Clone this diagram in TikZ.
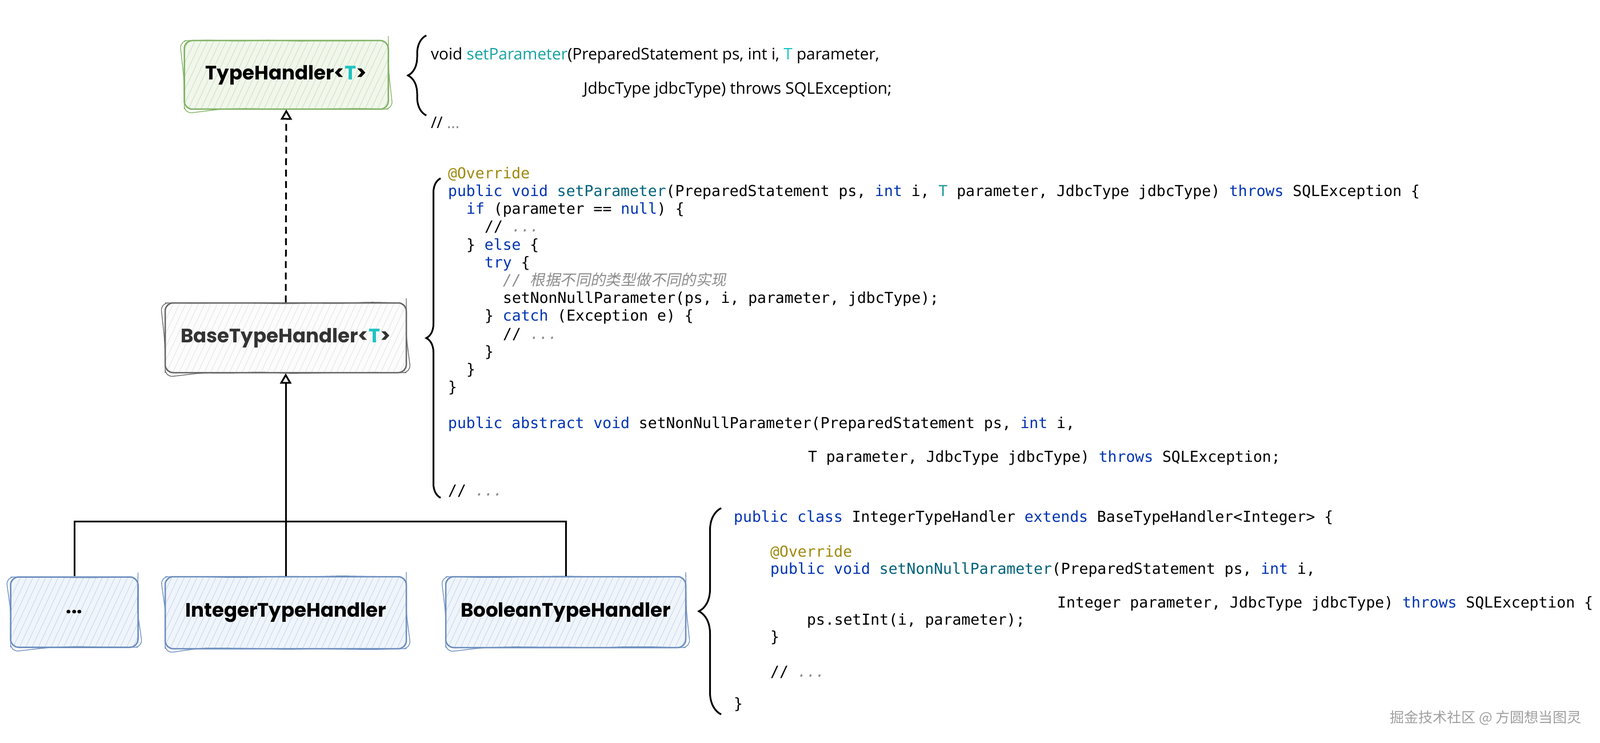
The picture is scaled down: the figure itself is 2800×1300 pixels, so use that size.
\documentclass[tikz,border=0pt]{standalone}
\usepackage{fontspec}
\setmainfont{Poppins}
\newfontfamily\codefont{DejaVu Sans Mono}
\newfontfamily\sigfont{Open Sans}
\newfontfamily\cjkslant[FakeSlant=0.2]{Noto Sans CJK SC}
\newfontfamily\cjkplain{Noto Sans CJK SC}
\usetikzlibrary{arrows.meta, decorations.pathreplacing, decorations.pathmorphing, patterns.meta}

\definecolor{kwblue}{HTML}{0033B3}
\definecolor{fnteal}{HTML}{00627A}
\definecolor{tpteal}{HTML}{20999D}
\definecolor{anolive}{HTML}{9E880D}
\definecolor{cmgray}{HTML}{8C8C8C}
\definecolor{sigteal}{HTML}{17A2A2}
\definecolor{tcyan}{HTML}{1CC4C4}
\definecolor{thline}{HTML}{82B366}
\definecolor{thfill}{HTML}{F1F7EC}
\definecolor{thhatch}{HTML}{CFE3C0}
\definecolor{bline}{HTML}{666666}
\definecolor{bfill}{HTML}{FCFCFC}
\definecolor{bhatch}{HTML}{E6E6E6}
\definecolor{subline}{HTML}{6C8EBF}
\definecolor{subfill}{HTML}{F0F5FB}
\definecolor{subhatch}{HTML}{C9D9EE}

\newcommand\kw[1]{\textcolor{kwblue}{#1}}
\newcommand\fnname[1]{\textcolor{fnteal}{#1}}
\newcommand\tparam[1]{\textcolor{tpteal}{#1}}
\newcommand\annot[1]{\textcolor{anolive}{#1}}
\newcommand\cmt[1]{\textcolor{cmgray}{\itshape #1}}
\newcommand\ind[1]{\hspace*{#1pt}}

\begin{document}
\begin{tikzpicture}[x=1pt, y=-1pt,
    box/.style={draw, line width=2.5pt, rounded corners=14pt, inner sep=0pt,
        font=\fontsize{34}{40}\selectfont\bfseries,
        pattern={Lines[angle=65,distance=10pt,line width=1pt]},
        postaction={draw, line width=1.3pt, decorate,
            decoration={random steps, segment length=50pt, amplitude=1.5pt}}},
    greenbox/.style={box, draw=thline, preaction={fill=thfill}, pattern color=thhatch},
    graybox/.style={box, draw=bline, preaction={fill=bfill}, pattern color=bhatch, text=black!80},
    bluebox/.style={box, draw=subline, preaction={fill=subfill}, pattern color=subhatch},
    code/.style={anchor=base west, align=left, inner sep=0pt,
        font=\codefont\fontsize{26.4}{31.2}\selectfont},
    codebrace/.style={decorate, decoration={brace, amplitude=#1}, line width=3pt},
    tree/.style={line width=3pt},
]
\useasboundingbox (0,0) rectangle (2800,1300);

% interface and base class
\node[greenbox, minimum width=357pt, minimum height=120pt] (th) at (501,131)
    {TypeHandler<\textcolor{tcyan}{T}>};
\node[graybox, minimum width=422pt, minimum height=122pt] (bth) at (500,591)
    {BaseTypeHandler<\textcolor{tcyan}{T}>};

% concrete handlers
\node[bluebox, minimum width=223pt, minimum height=123pt] (dots) at (130,1071) {...};
\node[bluebox, minimum width=422pt, minimum height=126pt] (ith) at (500,1072) {IntegerTypeHandler};
\node[bluebox, minimum width=420pt, minimum height=124pt] (bool) at (990,1071) {BooleanTypeHandler};

% inheritance
\draw[line width=3pt, dash pattern=on 12pt off 8pt, -{Triangle[open, length=18pt, width=20pt]}]
    (bth.north) -- (th.south);
\coordinate (fork) at (500,912);
\draw[tree] (dots.north) |- (fork) -| (bool.north);
\draw[tree, -{Triangle[open, length=18pt, width=20pt]}] (ith.north) -- (bth.south);

% interface method (base = last line)
\node[anchor=base west, align=left, inner sep=0pt,
    font=\sigfont\fontsize{28}{30}\selectfont] (thcode) at (754,225)
    {void \textcolor{sigteal}{setParameter}(PreparedStatement ps, int i, \textcolor{tcyan}{T} parameter,\\[30pt]
     \ind{267}JdbcType jdbcType) throws SQLException;\\[30pt]
     // \textcolor{cmgray}{...}};
\draw[codebrace=32pt] (746,202) -- (746,62);

% base class template method
\node[code] (bthcode) at (784,867)
    {\annot{@Override}\\
     \kw{public} \kw{void} \fnname{setParameter}(PreparedStatement ps, \kw{int} i, \tparam{T} parameter, JdbcType jdbcType) \kw{throws} SQLException \{\\
     \ind{32}\kw{if} (parameter == \kw{null}) \{\\
     \ind{64}// \cmt{...}\\
     \ind{32}\} \kw{else} \{\\
     \ind{64}\kw{try} \{\\
     \ind{96}\cmt{// {\cjkslant 根据不同的类型做不同的实现}}\\
     \ind{96}setNonNullParameter(ps, i, parameter, jdbcType);\\
     \ind{64}\} \kw{catch} (Exception e) \{\\
     \ind{96}// \cmt{...}\\
     \ind{64}\}\\
     \ind{32}\}\\
     \}\\[31.2pt]
     \kw{public} \kw{abstract} \kw{void} setNonNullParameter(PreparedStatement ps, \kw{int} i,\\[27.8pt]
     \ind{630}T parameter, JdbcType jdbcType) \kw{throws} SQLException;\\[27.8pt]
     // \cmt{...}};
\draw[codebrace=25pt] (771,871) -- (771,312);

% integer handler
\node[code, font=\codefont\fontsize{26.4}{30}\selectfont] (ithcode) at (1284,1240)
    {\kw{public} \kw{class} IntegerTypeHandler \kw{extends} BaseTypeHandler<Integer> \{\\[31pt]
     \ind{64}\annot{@Override}\\
     \ind{64}\kw{public} \kw{void} \fnname{setNonNullParameter}(PreparedStatement ps, \kw{int} i,\\[29pt]
     \ind{566}Integer parameter, JdbcType jdbcType) \kw{throws} SQLException \{\\
     \ind{128}ps.setInt(i, parameter);\\
     \ind{64}\}\\[31pt]
     \ind{64}// \cmt{...}\\[26pt]
     \}};
\draw[codebrace=39pt] (1262,1250) -- (1262,889);

\node[font=\cjkplain\fontsize{25}{28}\selectfont, text=gray!75] (mark) at (2600,1256)
    {掘金技术社区 @ 方圆想当图灵};
\end{tikzpicture}
\end{document}
